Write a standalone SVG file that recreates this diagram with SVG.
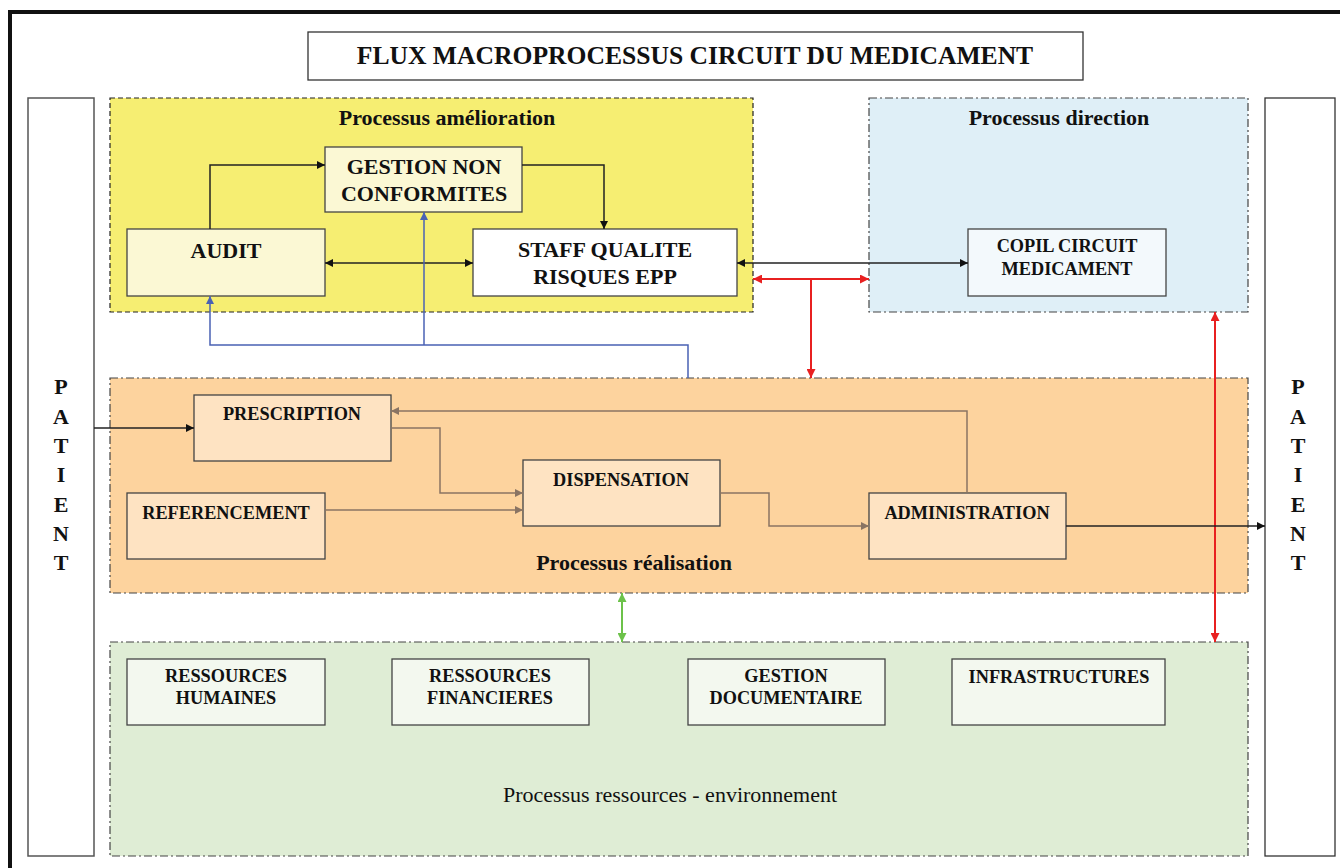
<svg xmlns="http://www.w3.org/2000/svg" width="1340" height="868" viewBox="0 0 1340 868">
<defs>
<style>
text{font-family:"Liberation Serif","Times New Roman",serif;fill:#111;text-anchor:middle}
.b{font-weight:bold}
.node{stroke:#444;stroke-width:1.3}
.c{fill:none;stroke-width:1.5}
.k{stroke:#222}
.br{stroke:#8a7463}
.bl{stroke:#4a62b4}
.rd{stroke:#e82020;stroke-width:2}
.gr{stroke:#6cc24a;stroke-width:2}
.h{font-size:22px;font-weight:bold}
.n{font-size:22px;font-weight:bold}
.s{font-size:18.3px;font-weight:bold}
.p{font-size:22px;font-weight:bold}
</style>
<marker id="ak" viewBox="0 0 10 10" refX="10" refY="5" markerWidth="8" markerHeight="8" markerUnits="userSpaceOnUse" orient="auto-start-reverse"><path d="M0,0L10,5L0,10z" fill="#111"/></marker>
<marker id="abr" viewBox="0 0 10 10" refX="10" refY="5" markerWidth="8" markerHeight="8" markerUnits="userSpaceOnUse" orient="auto-start-reverse"><path d="M0,0L10,5L0,10z" fill="#8a7463"/></marker>
<marker id="abl" viewBox="0 0 10 10" refX="10" refY="5" markerWidth="8" markerHeight="8" markerUnits="userSpaceOnUse" orient="auto-start-reverse"><path d="M0,0L10,5L0,10z" fill="#4a62b4"/></marker>
<marker id="ard" viewBox="0 0 10 10" refX="10" refY="5" markerWidth="9" markerHeight="9" markerUnits="userSpaceOnUse" orient="auto-start-reverse"><path d="M0,0L10,5L0,10z" fill="#e82020"/></marker>
<marker id="agr" viewBox="0 0 10 10" refX="10" refY="5" markerWidth="9" markerHeight="9" markerUnits="userSpaceOnUse" orient="auto-start-reverse"><path d="M0,0L10,5L0,10z" fill="#6cc24a"/></marker>
</defs>
<rect width="1340" height="868" fill="#fff"/>
<!-- outer border -->
<path d="M10,880V12H1352" fill="none" stroke="#111" stroke-width="4"/>

<g id="title">
<rect x="308" y="32" width="775" height="48" fill="#fff" stroke="#333" stroke-width="1.3"/>
<text x="695" y="64" class="b" font-size="25.6">FLUX MACROPROCESSUS CIRCUIT DU MEDICAMENT</text>
</g>

<g id="patient-left">
<rect x="28" y="98" width="66" height="758" fill="#fff" stroke="#555" stroke-width="1.5"/>
<g class="p">
<text x="61" y="394">P</text><text x="61" y="424">A</text><text x="61" y="453">T</text><text x="61" y="482">I</text><text x="61" y="512">E</text><text x="61" y="541">N</text><text x="61" y="570">T</text>
</g>
</g>
<g id="patient-right">
<rect x="1265" y="98" width="70" height="758" fill="#fff" stroke="#333" stroke-width="1.3"/>
<g class="p">
<text x="1298" y="394">P</text><text x="1298" y="424">A</text><text x="1298" y="453">T</text><text x="1298" y="482">I</text><text x="1298" y="512">E</text><text x="1298" y="541">N</text><text x="1298" y="570">T</text>
</g>
</g>

<g id="processus-amelioration">
<rect x="110" y="98" width="643" height="214" fill="#f6ee72" stroke="#222" stroke-width="1.2" stroke-dasharray="5,3"/>
<text x="447" y="125" class="h">Processus amélioration</text>
</g>
<g id="processus-direction">
<rect x="869" y="98" width="379" height="214" fill="#dfeff7" stroke="#444" stroke-width="1.2" stroke-dasharray="8,3,2,3"/>
<text x="1059" y="125" class="h">Processus direction</text>
</g>
<g id="processus-realisation">
<rect x="110" y="378" width="1138" height="215" fill="#fdd39e" stroke="#444" stroke-width="1.2" stroke-dasharray="8,3,2,3"/>
<text x="634" y="570" class="h">Processus réalisation</text>
</g>
<g id="processus-ressources">
<rect x="110" y="642" width="1138" height="214" fill="#dfedd5" stroke="#444" stroke-width="1.2" stroke-dasharray="8,3,2,3"/>
<text x="670" y="802" font-size="22">Processus ressources - environnement</text>
</g>

<g id="gestion-nc"><rect class="node" x="325" y="147" width="197" height="65" fill="#fbf8d4"/>
<text x="424" y="174" class="n">GESTION NON</text><text x="424" y="201" class="n">CONFORMITES</text></g>
<g id="audit"><rect class="node" x="127" y="229" width="198" height="67" fill="#fbf8d4"/>
<text x="226" y="258" class="n">AUDIT</text></g>
<g id="staff"><rect class="node" x="473" y="229" width="264" height="67" fill="#fff"/>
<text x="605" y="257" class="n">STAFF QUALITE</text><text x="605" y="284" class="n">RISQUES EPP</text></g>
<g id="copil"><rect class="node" x="968" y="229" width="198" height="67" fill="#f3f9fc"/>
<text x="1067" y="252" class="s">COPIL CIRCUIT</text><text x="1067" y="275" class="s">MEDICAMENT</text></g>

<g id="prescription"><rect class="node" x="194" y="395" width="197" height="66" fill="#fee3c2"/>
<text x="292" y="420" class="s">PRESCRIPTION</text></g>
<g id="referencement"><rect class="node" x="127" y="493" width="198" height="66" fill="#fee3c2"/>
<text x="226" y="519" class="s">REFERENCEMENT</text></g>
<g id="dispensation"><rect class="node" x="523" y="460" width="197" height="66" fill="#fee3c2"/>
<text x="621" y="486" class="s">DISPENSATION</text></g>
<g id="administration"><rect class="node" x="869" y="493" width="197" height="66" fill="#fee3c2"/>
<text x="967" y="519" class="s">ADMINISTRATION</text></g>

<g id="rh"><rect class="node" x="127" y="659" width="198" height="66" fill="#f3f8ef"/>
<text x="226" y="682" class="s">RESSOURCES</text><text x="226" y="704" class="s">HUMAINES</text></g>
<g id="rf"><rect class="node" x="392" y="659" width="197" height="66" fill="#f3f8ef"/>
<text x="490" y="682" class="s">RESSOURCES</text><text x="490" y="704" class="s">FINANCIERES</text></g>
<g id="gd"><rect class="node" x="688" y="659" width="197" height="66" fill="#f3f8ef"/>
<text x="786" y="682" class="s">GESTION</text><text x="786" y="704" class="s">DOCUMENTAIRE</text></g>
<g id="infra"><rect class="node" x="952" y="659" width="213" height="66" fill="#f3f8ef"/>
<text x="1059" y="683" class="s">INFRASTRUCTURES</text></g>

<g id="connectors">
<path class="c k" d="M210,229V165H325" marker-end="url(#ak)"/>
<path class="c k" d="M522,165H604V229" marker-end="url(#ak)"/>
<path class="c k" d="M325,263H473" marker-start="url(#ak)" marker-end="url(#ak)"/>
<path class="c k" d="M737,263H968" marker-start="url(#ak)" marker-end="url(#ak)"/>
<path class="c rd" d="M753,279H869" marker-start="url(#ard)" marker-end="url(#ard)"/>
<path class="c rd" d="M811,279V378" marker-end="url(#ard)"/>
<path class="c rd" d="M1215,312V642" marker-start="url(#ard)" marker-end="url(#ard)"/>
<path class="c gr" d="M622,593V642" marker-start="url(#agr)" marker-end="url(#agr)"/>
<path class="c bl" d="M688,378V345H210V296" marker-end="url(#abl)"/>
<path class="c bl" d="M424,345V212" marker-end="url(#abl)"/>
<path class="c k" d="M94,428H194" marker-end="url(#ak)"/>
<path class="c br" d="M391,428H440V493H523" marker-end="url(#abr)"/>
<path class="c br" d="M325,510H523" marker-end="url(#abr)"/>
<path class="c br" d="M720,493H769V526H869" marker-end="url(#abr)"/>
<path class="c br" d="M967,493V411H391" marker-end="url(#abr)"/>
<path class="c k" d="M1066,526H1265" marker-end="url(#ak)"/>
</g>
</svg>
